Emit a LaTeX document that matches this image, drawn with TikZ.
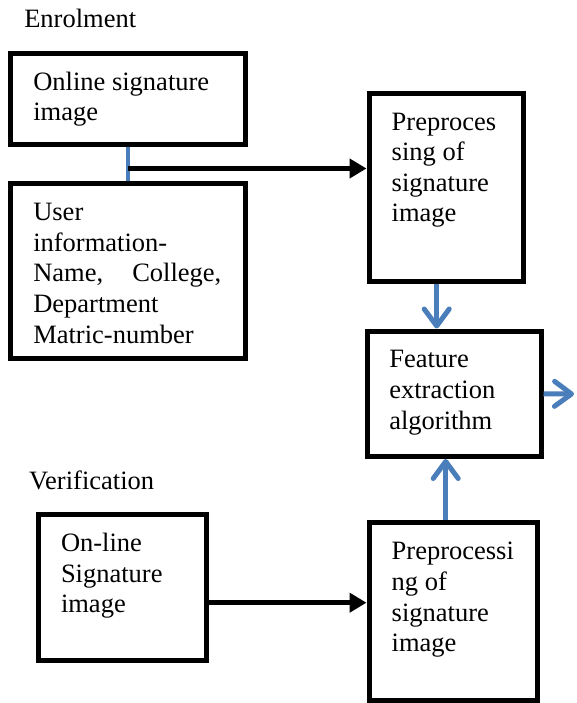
\documentclass[tikz,border=0pt]{standalone}
\usepackage{fontspec}
\setmainfont{Liberation Serif}
\usetikzlibrary{arrows.meta}
\definecolor{arrowblue}{RGB}{74,126,187}
\begin{document}
\begin{tikzpicture}[x=1pt,y=-1pt,
  box/.style={draw=black,line width=5pt,inner sep=0pt,fill=none},
  txt/.style={font=\fontsize{26.5}{30.5}\selectfont,anchor=base west,inner sep=0pt,outer sep=0pt},
  blackarrow/.style={draw=black,line width=5pt,-{Triangle[length=17pt,width=19pt]}},
  bluearrow/.style={draw=arrowblue,line width=5pt,-{Straight Barb[length=17pt,width=25pt,line cap=round,line join=round]}},
  blueline/.style={draw=arrowblue,line width=4pt}]
\useasboundingbox (0,0) rectangle (576,703);

% boxes
\node[box,minimum width=234.5pt,minimum height=91.5pt] (b1) at (127.75,99.25) {};
\node[box,minimum width=234.5pt,minimum height=174pt] (b2) at (127.75,271) {};
\node[box,minimum width=154.5pt,minimum height=187.5pt] (b3) at (446.25,187.75) {};
\node[box,minimum width=174pt,minimum height=125.5pt] (b4) at (454,393.75) {};
\node[box,minimum width=168.5pt,minimum height=146.5pt] (b5) at (122.25,587.25) {};
\node[box,minimum width=168pt,minimum height=177.5pt] (b6) at (453,611.25) {};

% texts
\node[txt] (tenrol) at (24.3,27.7) {Enrolment};
\node[txt] (t1a) at (33.3,90.7) {Online signature};
\node[txt] (t1b) at (33.3,120.7) {image};
\node[txt] (t2a) at (33.3,220.7) {User};
\node[txt] (t2b) at (33.3,251.3) {information-};
\node[txt] (t2c) at (33.3,281.9) {\makebox[188pt][s]{Name,\hfill College,}};
\node[txt] (t2d) at (33.3,312.5) {Department};
\node[txt] (t2e) at (33.3,343.1) {Matric-number};
\node[txt] (t3a) at (391.7,131) {Preproces};
\node[txt] (t3b) at (391.7,161) {sing of};
\node[txt] (t3c) at (391.7,191.3) {signature};
\node[txt] (t3d) at (391.7,221.6) {image};
\node[txt] (t4a) at (389.3,367.5) {Feature};
\node[txt] (t4b) at (389.3,398.5) {extraction};
\node[txt] (t4c) at (389.3,429.5) {algorithm};
\node[txt] (tverif) at (29,489) {Verification};
\node[txt] (t5a) at (61,551.7) {On-line};
\node[txt] (t5b) at (61,582.7) {Signature};
\node[txt] (t5c) at (61,612.7) {image};
\node[txt] (t6a) at (391.7,559.5) {Preprocessi};
\node[txt] (t6b) at (391.7,590.3) {ng of};
\node[txt] (t6c) at (391.7,621.1) {signature};
\node[txt] (t6d) at (391.7,651.9) {image};

% helper coordinates
\coordinate (j) at (128,168.5);
\coordinate (dx) at (436.7,0);
\coordinate (ux) at (445.7,0);
\coordinate (vy) at (0,602.7);
\coordinate (outend) at (574,394);

% connectors
\draw[blueline] (b1.south) -- (b2.north);
\draw[blackarrow] (j) -- (j -| b3.west);
\draw[bluearrow] (b3.south -| dx) -- (b4.north -| dx);
\draw[bluearrow] (b4.east) -- (outend);
\draw[bluearrow] (b6.north -| ux) -- (b4.south -| ux);
\draw[blackarrow] (b5.east |- vy) -- (b6.west |- vy);
\end{tikzpicture}
\end{document}
